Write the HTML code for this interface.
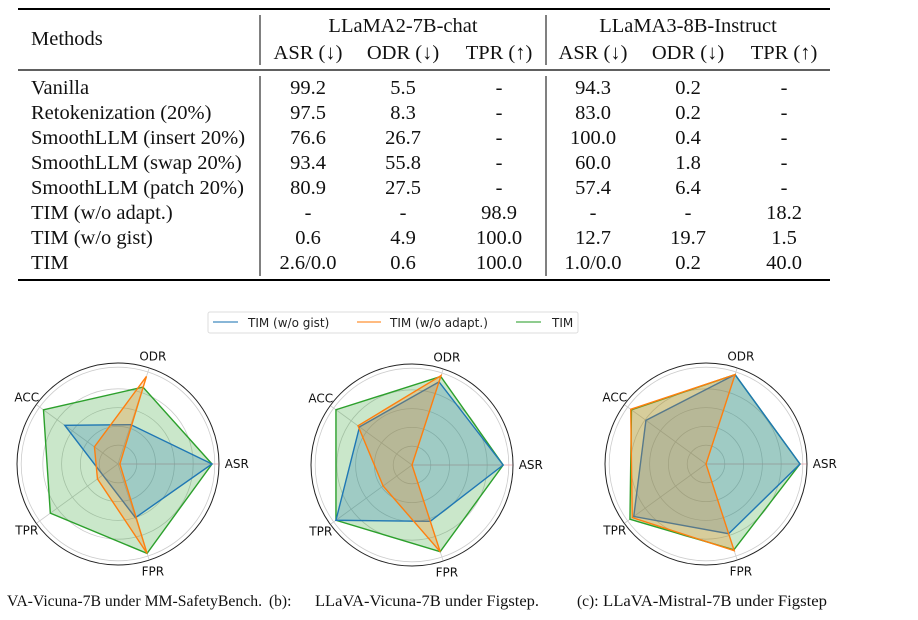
<!DOCTYPE html>
<html><head><meta charset="utf-8"><style>
body{margin:0;width:918px;height:620px;background:#fff;overflow:hidden;font-family:"Liberation Serif",serif;}
svg{position:absolute;left:0;top:0}
</style></head><body>
<svg id="s" width="918" height="620" xmlns="http://www.w3.org/2000/svg">
<g font-family="Liberation Serif, serif" font-size="20.5" fill="#111">
<line x1="18" y1="9" x2="830" y2="9" stroke="#000" stroke-width="2"/>
<line x1="18" y1="70" x2="830" y2="70" stroke="#000" stroke-width="1.2"/>
<line x1="18" y1="280" x2="830" y2="280" stroke="#000" stroke-width="2"/>
<line x1="260" y1="15" x2="260" y2="65" stroke="#000" stroke-width="1"/>
<line x1="260" y1="76" x2="260" y2="276" stroke="#000" stroke-width="1"/>
<line x1="546" y1="15" x2="546" y2="65" stroke="#000" stroke-width="1"/>
<line x1="546" y1="76" x2="546" y2="276" stroke="#000" stroke-width="1"/>
<text x="31" y="45">Methods</text>
<text x="403" y="32" text-anchor="middle">LLaMA2-7B-chat</text>
<text x="688" y="32" text-anchor="middle">LLaMA3-8B-Instruct</text>
<g id="tbody" text-anchor="middle"></g>
</g>
<g font-family="DejaVu Sans, sans-serif" font-size="12" fill="#222">
<rect x="208" y="312" width="370" height="21" rx="2" fill="#fff" stroke="#ddd"/>
<line x1="213" y1="322" x2="238" y2="322" stroke="#1f77b4" stroke-width="1.5" opacity="0.7"/>
<text x="248" y="327">TIM (w/o gist)</text>
<line x1="357" y1="322" x2="381" y2="322" stroke="#ff7f0e" stroke-width="1.5" opacity="0.7"/>
<text x="390" y="327">TIM (w/o adapt.)</text>
<line x1="516" y1="322" x2="541" y2="322" stroke="#2ca02c" stroke-width="1.5" opacity="0.7"/>
<text x="552" y="327">TIM</text>
</g>
<g id="charts"></g>
<g font-family="Liberation Serif, serif" font-size="15.5" fill="#111">
<text x="7" y="606" textLength="255" lengthAdjust="spacingAndGlyphs">VA-Vicuna-7B under MM-SafetyBench.</text>
<text x="269" y="606">(b):</text>
<text x="315" y="606" textLength="224" lengthAdjust="spacingAndGlyphs">LLaVA-Vicuna-7B under Figstep.</text>
<text x="577" y="606">(c):</text>
<text x="603" y="606" textLength="224" lengthAdjust="spacingAndGlyphs">LLaVA-Mistral-7B under Figstep</text>
</g>
</svg>
<script>
const tableRows = ["Vanilla","Retokenization (20%)","SmoothLLM (insert 20%)","SmoothLLM (swap 20%)","SmoothLLM (patch 20%)","TIM (w/o adapt.)","TIM (w/o gist)","TIM"];
const colHeaders = ["ASR (↓)","ODR (↓)","TPR (↑)","ASR (↓)","ODR (↓)","TPR (↑)"];
const tableVals = [
["99.2","5.5","-","94.3","0.2","-"],
["97.5","8.3","-","83.0","0.2","-"],
["76.6","26.7","-","100.0","0.4","-"],
["93.4","55.8","-","60.0","1.8","-"],
["80.9","27.5","-","57.4","6.4","-"],
["-","-","98.9","-","-","18.2"],
["0.6","4.9","100.0","12.7","19.7","1.5"],
["2.6/0.0","0.6","100.0","1.0/0.0","0.2","40.0"]];
const axesLabels = ["ASR","ODR","ACC","TPR","FPR"];
const seriesNames = ["TIM (w/o gist)","TIM (w/o adapt.)","TIM"];
const chartA_gist = [1.0,0.44,0.70,0.20,0.60];
const chartA_adapt = [0.02,0.98,0.31,0.27,1.0];
const chartA_tim = [1.0,0.86,0.98,0.89,1.0];
const chartB_gist = [0.97,0.93,0.69,1.0,0.63];
const chartB_adapt = [0.0,1.0,0.71,0.38,0.97];
const chartB_tim = [0.97,0.99,1.0,1.0,0.97];
const chartC_gist = [1.0,1.0,0.79,0.95,0.78];
const chartC_adapt = [0.0,1.0,0.99,0.97,0.97];
const chartC_tim = [1.0,1.0,0.98,1.0,0.96];

const NS="http://www.w3.org/2000/svg";
function mk(t,a,p){const e=document.createElementNS(NS,t);for(const k in a)e.setAttribute(k,a[k]);p.appendChild(e);return e;}
const colX=[308,403,499,593,688,784];
const tb=document.getElementById('tbody');
colHeaders.forEach((h,i)=>{const t=mk('text',{x:colX[i],y:59},tb);t.textContent=h;

});
tableRows.forEach((r,j)=>{const y=94+j*25;
const t=mk('text',{x:31,y:y,'text-anchor':'start'},tb);t.textContent=r;


tableVals[j].forEach((v,i)=>{const c=mk('text',{x:colX[i],y:y},tb);c.textContent=v;

});});

const colors=["#1f77b4","#ff7f0e","#2ca02c"];
const charts=[{cx:118,cy:464,s:[chartA_gist,chartA_adapt,chartA_tim]},
{cx:412,cy:465,s:[chartB_gist,chartB_adapt,chartB_tim]},
{cx:706,cy:464,s:[chartC_gist,chartC_adapt,chartC_tim]}];
const R=94;
const G=document.getElementById('charts');
charts.forEach((c,ci)=>{
const g=mk('g',{},G);


const ang=i=>i*2*Math.PI/axesLabels.length;
const pt=(v,i)=>[c.cx+R*v*Math.cos(ang(i)),c.cy-R*v*Math.sin(ang(i))];
[0.2,0.4,0.6,0.8,1.0].forEach(f=>mk('circle',{cx:c.cx,cy:c.cy,r:R*f*(f==1?1.03:1),fill:'none',stroke:'#ccc','stroke-width':0.8},g));
mk('circle',{cx:c.cx,cy:c.cy,r:R+7,fill:'none',stroke:'#222','stroke-width':1},g);
axesLabels.forEach((a,i)=>{const p=pt(1.07,i);
mk('line',{x1:c.cx,y1:c.cy,x2:p[0],y2:p[1],stroke:i==0?'#e8a0a8':'#ccc','stroke-width':0.8},g);
const lp=pt(1.2,i);
const t=mk('text',{x:lp[0]+(i==0?6:0),y:lp[1]+4,'text-anchor':'middle','font-family':'DejaVu Sans, sans-serif','font-size':'12',fill:'#111'},g);
t.textContent=a;

});
[2,0,1].forEach(k=>{
const d=c.s[k].map((v,i)=>pt(v,i).join(',')).join(' ');
const p=mk('polygon',{points:d,fill:colors[k],'fill-opacity':0.25,stroke:colors[k],'stroke-width':1.4},g);

});
});
</script>
</body></html>
